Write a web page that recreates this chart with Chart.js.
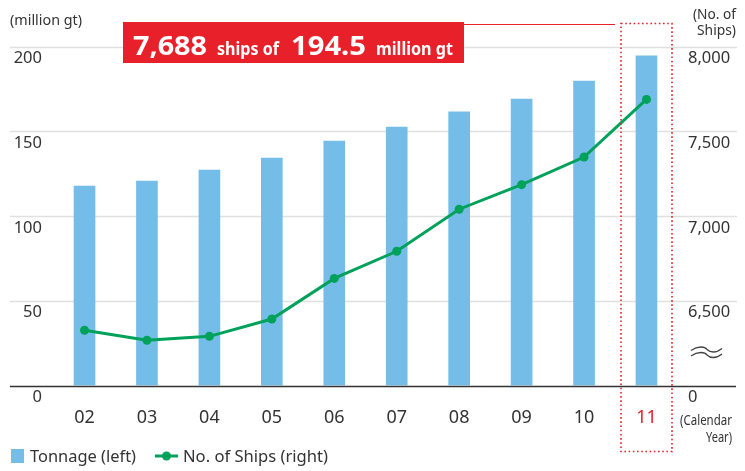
<!DOCTYPE html>
<html>
<head>
<meta charset="utf-8">
<script src="https://cdn.jsdelivr.net/npm/chart.js@4"></script>
<style>
  body { margin:0; background:#fff; }
  canvas { display:block; }
</style>
</head>
<body>
<canvas id="c" width="745" height="471"></canvas>
<script>
const years = ['02','03','04','05','06','07','08','09','10','11'];
const tonnage = [117.7, 120.6, 127.1, 134.2, 144.2, 152.5, 161.4, 169.0, 179.6, 194.5];
const ships = [6326, 6267, 6290, 6392, 6632, 6792, 7040, 7185, 7348, 7688];
const leftTicks = [0, 50, 100, 150, 200];
const rightTicks = [6000, 6500, 7000, 7500, 8000];

const FONT = '"Noto Sans", "Open Sans", sans-serif';
const TXT = '#333';
const RED = '#e8202a';
const BLUE = '#74bde8';
const GREEN = '#00a15a';

function fmt(v){
    if(v===6000) return '0';
    return v.toLocaleString('en-US');
}

// draw text squeezed/stretched to a given width, starting at x (left edge)
function fitText(ctx, txt, x, y, w){
    const m = ctx.measureText(txt).width;
    ctx.save();
    ctx.translate(x, y);
    ctx.scale(w/m, 1);
    ctx.textAlign = 'left';
    ctx.fillText(txt, 0, 0);
    ctx.restore();
}

const decor = {
    id:'decor',
    beforeDatasetsDraw(chart){
        const ctx = chart.ctx;
        const y = chart.scales.y;
        ctx.save();
        ctx.strokeStyle = '#e0e0e0';
        ctx.lineWidth = 1.5;
        leftTicks.forEach(t=>{
            if(t===0) return;
            const py = Math.round(y.getPixelForValue(t))+0.5;
            ctx.beginPath();
            ctx.moveTo(10,py);
            ctx.lineTo(737,py);
            ctx.stroke();
        });
        ctx.restore();
    },
    afterDatasetsDraw(chart){
        const ctx = chart.ctx;
        const x = chart.scales.x;
        const y = chart.scales.y;
        const y2 = chart.scales.y2;
        ctx.save();

        // baseline
        const by = Math.round(y.getPixelForValue(0))+0.5;
        ctx.strokeStyle = '#333';
        ctx.lineWidth = 1.5;
        ctx.beginPath(); ctx.moveTo(10,by); ctx.lineTo(736,by); ctx.stroke();

        // left ticks
        ctx.fillStyle = TXT;
        ctx.font = '16.5px '+FONT;
        ctx.textBaseline = 'middle';
        ctx.textAlign = 'right';
        leftTicks.forEach(t=>{
            ctx.fillText(String(t), 42, y.getPixelForValue(t)+12);
        });
        // right ticks
        ctx.textAlign = 'left';
        rightTicks.forEach(t=>{
            ctx.fillText(fmt(t), 688, y2.getPixelForValue(t)+12);
        });

        // axis break
        ctx.strokeStyle = '#444';
        ctx.lineWidth = 1.3;
        [349.5, 355].forEach(wy=>{
            ctx.beginPath();
            ctx.moveTo(691,wy+1);
            ctx.bezierCurveTo(698,wy-4, 705,wy-3, 707,wy);
            ctx.bezierCurveTo(710,wy+3, 716,wy+4, 722,wy-1);
            ctx.stroke();
        });

        // x labels
        ctx.font = '18px '+FONT;
        ctx.textAlign = 'center';
        years.forEach((lab,i)=>{
            ctx.fillStyle = i===years.length-1 ? RED : TXT;
            ctx.fillText(lab, x.getPixelForValue(i), 418);
        });

        // unit labels
        ctx.fillStyle = TXT;
        ctx.font = '14px '+FONT;
        fitText(ctx, '(million gt)', 10, 21, 72);
        fitText(ctx, '(No. of', 693, 15, 43);
        fitText(ctx, 'Ships)', 697, 31, 39);
        fitText(ctx, '(Calendar', 680, 421, 52);
        fitText(ctx, 'Year)', 706, 438, 26);

        // dotted highlight box
        ctx.strokeStyle = RED;
        ctx.lineWidth = 1.6;
        ctx.setLineDash([1.6,2.6]);
        ctx.strokeRect(621, 23.5, 51, 428);
        ctx.setLineDash([]);

        // connector line
        ctx.lineWidth = 1;
        ctx.beginPath(); ctx.moveTo(463,24.5); ctx.lineTo(615,24.5); ctx.stroke();

        // red callout
        ctx.fillStyle = RED;
        ctx.fillRect(123,22,341,41);
        ctx.fillStyle = '#fff';
        ctx.textBaseline = 'alphabetic';
        ctx.font = 'bold 27px '+FONT;
        fitText(ctx, '7,688', 133, 54.5, 74);
        fitText(ctx, '194.5', 291, 54.5, 75);
        ctx.font = 'bold 17px '+FONT;
        fitText(ctx, 'ships of', 217, 54.5, 62);
        fitText(ctx, 'million gt', 376, 54.5, 77);

        // legend
        ctx.fillStyle = BLUE;
        ctx.fillRect(11,449,13,14);
        ctx.strokeStyle = GREEN;
        ctx.lineWidth = 3;
        ctx.beginPath(); ctx.moveTo(155,456); ctx.lineTo(178,456); ctx.stroke();
        ctx.fillStyle = GREEN;
        ctx.beginPath(); ctx.arc(166.5,456,4.5,0,Math.PI*2); ctx.fill();
        ctx.fillStyle = TXT;
        ctx.font = '16.5px '+FONT;
        ctx.textBaseline = 'middle';
        fitText(ctx, 'Tonnage (left)', 30, 457, 106);
        fitText(ctx, 'No. of Ships (right)', 183, 457, 145);

        ctx.restore();
    }
};

new Chart(document.getElementById('c'), {
    data:{
        labels:years,
        datasets:[{
            type:'line',
            label:'No. of Ships (right)',
            data:ships,
            yAxisID:'y2',
            borderColor:GREEN,
            backgroundColor:GREEN,
            borderWidth:3,
            pointRadius:4.5,
            pointBorderWidth:0,
            tension:0,
            order:0
        },{
            type:'bar',
            label:'Tonnage (left)',
            data:tonnage,
            yAxisID:'y',
            backgroundColor:BLUE,
            barThickness:21,
            order:1
        }]
    },
    options:{
        responsive:false,
        animation:false,
        layout:{ padding:{ left:53.3, right:67.3, top:46.5, bottom:85.5 } },
        plugins:{ legend:{display:false}, tooltip:{enabled:false} },
        scales:{
            x:{ display:false, offset:true },
            y:{ display:false, min:0, max:200 },
            y2:{ display:false, min:6000, max:8000 }
        }
    },
    plugins:[decor]
});
</script>
</body>
</html>
